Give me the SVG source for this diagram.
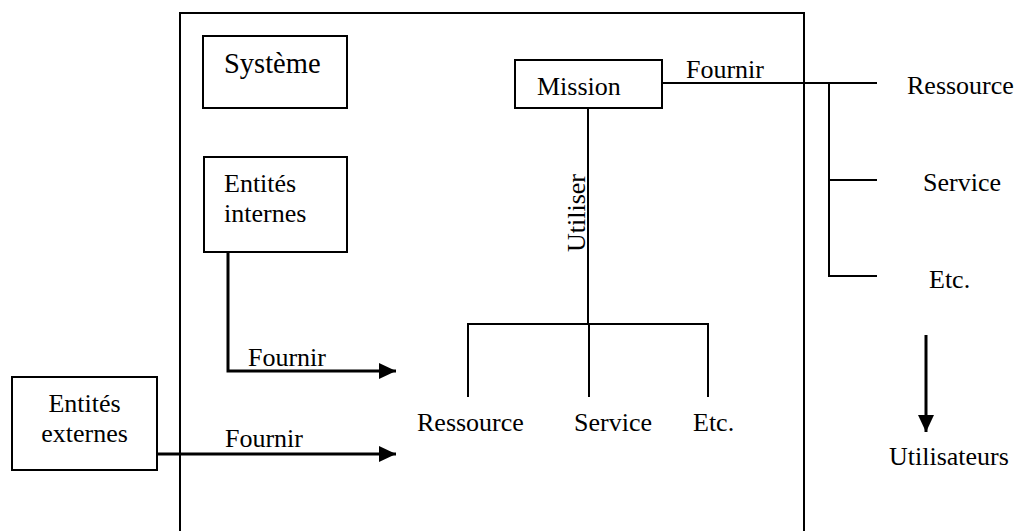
<svg xmlns="http://www.w3.org/2000/svg" width="1018" height="531" viewBox="0 0 1018 531">
<defs>
<style>
.t{font-family:'Liberation Serif','Times New Roman','DejaVu Serif',serif;font-size:26px;fill:#000}
.box{fill:#fff;stroke:#000;stroke-width:2}
.ln{fill:none;stroke:#000;stroke-width:2}
.ar{fill:none;stroke:#000;stroke-width:3}
</style>
<marker id="ah" markerUnits="userSpaceOnUse" markerWidth="18" markerHeight="16" refX="17" refY="8" orient="auto">
<path d="M0,0 L17,8 L0,16 Z" fill="#000"/>
</marker>
</defs>
<rect width="1018" height="531" fill="#fff"/>
<g id="systeme-cadre">
<path class="ln" d="M180,540 V13 H804 V540"/>
</g>
<g id="connectors">
<path class="ar" d="M228,252 V371 H396" marker-end="url(#ah)"/>
<path class="ar" d="M157,454 H396" marker-end="url(#ah)"/>
<path class="ln" d="M588,108 V324"/>
<path class="ln" d="M468,397 V324 H708 V397"/>
<path class="ln" d="M589,324 V397"/>
<path class="ln" d="M662,83 H877"/>
<path class="ln" d="M829,83 V276 H877"/>
<path class="ln" d="M829,180 H877"/>
<path class="ar" d="M926,335 V432" marker-end="url(#ah)"/>
<text class="t" x="248" y="366">Fournir</text>
<text class="t" x="225" y="447">Fournir</text>
<text class="t" x="686" y="78">Fournir</text>
<text class="t" transform="translate(585,252) rotate(-90)">Utiliser</text>
</g>
<g id="systeme">
<rect class="box" x="203" y="36" width="144" height="72"/>
<text class="t" x="224" y="73" style="font-size:28.5px">Système</text>
</g>
<g id="entites-internes">
<rect class="box" x="204" y="157" width="143" height="95"/>
<text class="t" x="224" y="192">Entités</text>
<text class="t" x="224" y="222">internes</text>
</g>
<g id="entites-externes">
<rect class="box" x="12" y="377" width="145" height="93"/>
<text class="t" x="84.5" y="412" text-anchor="middle">Entités</text>
<text class="t" x="84.5" y="442" text-anchor="middle">externes</text>
</g>
<g id="mission">
<rect class="box" x="515" y="60" width="147" height="48"/>
<text class="t" x="537" y="95">Mission</text>
</g>
<g id="ressources-internes">
<text class="t" x="417" y="431">Ressource</text>
<text class="t" x="574" y="431">Service</text>
<text class="t" x="693" y="431">Etc.</text>
</g>
<g id="ressources-fournies">
<text class="t" x="907" y="94">Ressource</text>
<text class="t" x="923" y="191">Service</text>
<text class="t" x="929" y="288">Etc.</text>
</g>
<g id="utilisateurs">
<text class="t" x="889" y="465">Utilisateurs</text>
</g>
</svg>
